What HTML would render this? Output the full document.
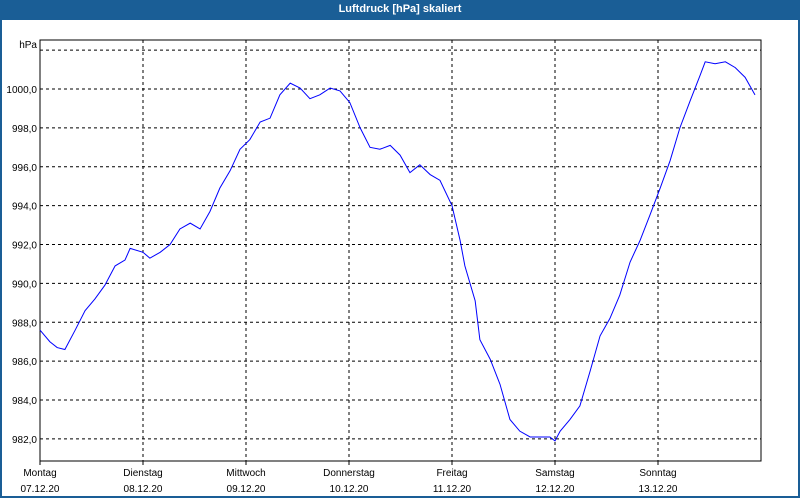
<!DOCTYPE html>
<html><head><meta charset="utf-8"><style>
body{margin:0;width:800px;height:500px;overflow:hidden;background:#fff;font-family:"Liberation Sans",sans-serif}
#frame{position:absolute;left:0;top:0;width:796px;height:496px;border:2px solid #1a5e96;border-top:none}
#title{position:absolute;left:0;top:0;width:800px;height:20px;background:#1a5e96;color:#fff;font-size:11px;font-weight:bold;text-align:center;line-height:19px}
svg{position:absolute;left:0;top:0}
</style></head><body>
<div id="frame"></div>
<div id="title">Luftdruck [hPa] skaliert</div>
<svg id="c" width="800" height="500"></svg>
<script>
const hours=[0,2.3,4,5.8,8.2,10.5,12.8,15.1,17.5,19.8,21,24,25.6,28,30.3,32.6,35,37.3,39.6,41.9,44.3,46.6,48.9,51.3,53.6,55.9,58.3,60.6,62.9,65.2,67.6,69.9,72.2,74.6,76.9,79.2,81.6,83.9,86.2,88.5,90.9,93.2,96,97.9,99,101.4,102.5,104.9,107.2,109.5,111.8,114.2,116.5,118.8,120,121.2,123.5,125.8,128.2,130.5,132.8,135.1,137.5,139.8,142.1,144.5,146.8,149.1,151.5,153.8,155,157.3,159.7,162,164.3,166.6];
const pressure=[987.6,987.0,986.7,986.6,987.6,988.6,989.2,989.9,990.9,991.2,991.8,991.6,991.3,991.6,992.0,992.8,993.1,992.8,993.7,994.9,995.8,996.9,997.4,998.3,998.5,999.7,1000.3,1000.05,999.5,999.7,1000.05,999.9,999.3,998.0,997.0,996.9,997.1,996.6,995.7,996.1,995.6,995.3,994.0,992.2,990.9,989.1,987.1,986.1,984.8,983.0,982.4,982.1,982.1,982.1,981.9,982.4,983.0,983.7,985.5,987.3,988.2,989.4,991.1,992.2,993.5,994.9,996.3,998.0,999.4,1000.7,1001.4,1001.3,1001.4,1001.1,1000.6,999.7];
const yTicks=[982,984,986,988,990,992,994,996,998,1000,1002];
const dayNames=["Montag","Dienstag","Mittwoch","Donnerstag","Freitag","Samstag","Sonntag"];
const dates=["07.12.20","08.12.20","09.12.20","10.12.20","11.12.20","12.12.20","13.12.20"];
const L=40,R=761,T=40,B=461;
const x=h=>L+h/168*(R-L);
const y=v=>89+(1000-v)*19.44;
const s=document.getElementById('c'),NS='http://www.w3.org/2000/svg';
function mk(t,a){const e=document.createElementNS(NS,t);for(const k in a)e.setAttribute(k,a[k]);s.appendChild(e);return e;}
yTicks.forEach(v=>{
 const l=mk('line',{x1:L,x2:R,y1:y(v),y2:y(v),stroke:'#000','stroke-dasharray':'3,3'});
 
 
 if(v<1002){const t=mk('text',{x:L-3,y:y(v)+4,'text-anchor':'end','font-size':'10'});t.textContent=v.toFixed(1).replace('.',',');
 
 }
});
const u=mk('text',{x:L-3,y:48,'text-anchor':'end','font-size':'10'});u.textContent='hPa';


dayNames.forEach((d,i)=>{
 const xx=x(i*24);
 if(i>0){const g=mk('line',{x1:xx,x2:xx,y1:T,y2:B,stroke:'#000','stroke-dasharray':'3,3'});
 
 }
 const tk=mk('line',{x1:xx,x2:xx,y1:B,y2:B+4,stroke:'#000'});
 
 
 const t1=mk('text',{x:xx,y:476,'text-anchor':'middle','font-size':'10'});t1.textContent=d;
 
 
 const t2=mk('text',{x:xx,y:492,'text-anchor':'middle','font-size':'10'});t2.textContent=dates[i];
 
 
});
const fr=mk('rect',{x:L,y:T,width:R-L,height:B-T,fill:'none',stroke:'#000'});


const p=mk('polyline',{points:hours.map((h,i)=>x(h)+','+y(pressure[i])).join(' '),fill:'none',stroke:'#0000ff','stroke-width':'1'});


</script>
</body></html>
